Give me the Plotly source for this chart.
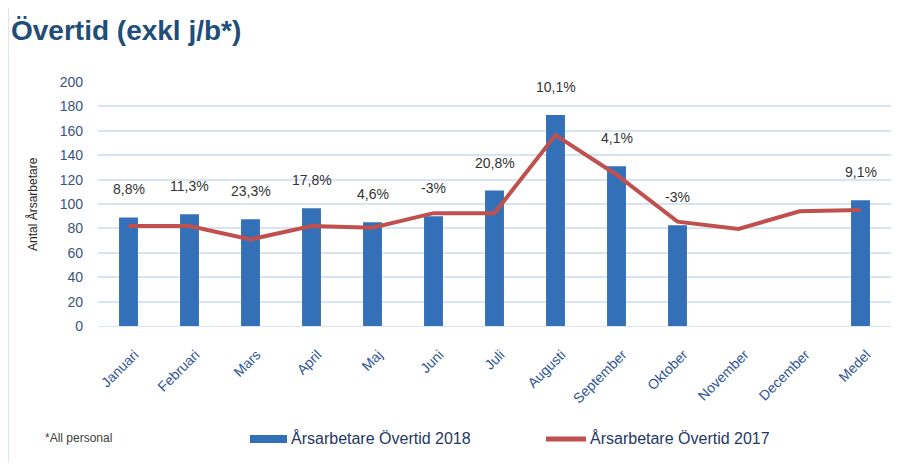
import plotly.graph_objects as go

months = ["Januari", "Februari", "Mars", "April", "Maj", "Juni", "Juli",
          "Augusti", "September", "Oktober", "November", "December", "Medel"]
overtid_2018 = [89, 91.5, 87.5, 96.5, 85, 90, 111, 173, 131, 82.5, None, None, 103]
overtid_2017 = [82, 82, 71, 82, 80.5, 92.5, 92.5, 156.5, 124, 85.5, 79.5, 94, 95]
change_labels = ["8,8%", "11,3%", "23,3%", "17,8%", "4,6%", "-3%", "20,8%",
                 "10,1%", "4,1%", "-3%", "", "", "9,1%"]
y_ticks = [0, 20, 40, 60, 80, 100, 120, 140, 160, 180, 200]
series_names = ["Årsarbetare Övertid 2018", "Årsarbetare Övertid 2017"]
BAR_COLOR = "#3470B8"
LINE_COLOR = "#C0504D"

# page has an 8px body margin; figure sized to fit window
OFF = 8
W, H = 903 - OFF, 464 - OFF
# target page pixels: plot left 98, right 891, top 82, bottom 326
L, T = 98 - OFF, 82 - OFF
R = W - (891 - OFF)
B = H - (326 - OFF)
PW, PH = W - L - R, H - T - B


def px_x(px):
    """page pixel x -> paper coordinate"""
    return (px - OFF - L) / PW


def px_y(py):
    """page pixel y -> paper coordinate"""
    return (H - B - (py - OFF)) / PH


fig = go.Figure()
fig.add_trace(go.Bar(
    x=months, y=overtid_2018, name=series_names[0],
    marker=dict(color=BAR_COLOR, line=dict(width=0)),
))
fig.add_trace(go.Scatter(
    x=months, y=overtid_2017, name=series_names[1],
    mode="lines", line=dict(color=LINE_COLOR, width=4),
    connectgaps=True,
))

FONT = "Liberation Sans, Arial"
NARROW = "Liberation Sans Narrow, Liberation Sans, Arial"

annotations = []
for m, v, t in zip(months, overtid_2018, change_labels):
    if v is None or not t:
        continue
    annotations.append(dict(
        x=m, y=v, xref="x", yref="y", text=t, showarrow=False,
        yshift=28, font=dict(family=FONT, size=14, color="#333333"),
    ))

# title
annotations.append(dict(
    x=px_x(9), y=px_y(30), xref="paper", yref="paper", xanchor="left", yanchor="middle",
    text="<b>Övertid (exkl j/b*)</b>", showarrow=False,
    font=dict(family=FONT, size=28, color="#1F4E79"),
))
# y-axis title
annotations.append(dict(
    x=px_x(32), y=px_y(204), xref="paper", yref="paper", xanchor="center", yanchor="middle",
    text="Antal Årsarbetare", textangle=-90, showarrow=False,
    font=dict(family=FONT, size=12, color="#262626"),
))
# footnote
annotations.append(dict(
    x=px_x(43), y=px_y(438), xref="paper", yref="paper",
    xanchor="left", yanchor="middle",
    text="*All personal", showarrow=False,
    font=dict(family=NARROW, size=12, color="#404040"),
))
# legend texts
annotations.append(dict(
    x=px_x(289), y=px_y(438), xref="paper", yref="paper", xanchor="left", yanchor="middle",
    text=series_names[0], showarrow=False,
    font=dict(family=NARROW, size=16, color="#1F3864"),
))
annotations.append(dict(
    x=px_x(588), y=px_y(438), xref="paper", yref="paper", xanchor="left", yanchor="middle",
    text=series_names[1], showarrow=False,
    font=dict(family=NARROW, size=16, color="#1F3864"),
))

frame = "#DAE6F3"
shapes = [
    dict(type="line", xref="paper", yref="paper",
         x0=px_x(8), x1=px_x(903), y0=px_y(6), y1=px_y(6),
         line=dict(color=frame, width=2)),
    dict(type="line", xref="paper", yref="paper",
         x0=px_x(8), x1=px_x(8), y0=px_y(6), y1=px_y(462),
         line=dict(color=frame, width=2)),
    # legend keys
    dict(type="rect", xref="paper", yref="paper",
         x0=px_x(250), x1=px_x(287), y0=px_y(443), y1=px_y(435),
         fillcolor=BAR_COLOR, line=dict(width=0)),
    dict(type="line", xref="paper", yref="paper",
         x0=px_x(546), x1=px_x(586), y0=px_y(439), y1=px_y(439),
         line=dict(color=LINE_COLOR, width=5)),
]

fig.update_layout(
    width=W, height=H,
    margin=dict(l=L, r=R, t=T, b=B, autoexpand=False),
    paper_bgcolor="white", plot_bgcolor="white",
    bargap=0.69,
    showlegend=False,
    annotations=annotations,
    shapes=shapes,
    xaxis=dict(
        tickangle=-45, showgrid=False, showline=True, linecolor="#D9E4F2", linewidth=1,
        tickfont=dict(family=FONT, size=14, color="#2F5597"),
        ticks="", ticklabelstandoff=14, ticklabelshift=6, automargin=False,
    ),
    yaxis=dict(
        range=[0, 200], tickvals=y_ticks, showgrid=True, gridcolor="#D9E4F2", gridwidth=1.5,
        zeroline=False, ticks="", ticklabelstandoff=14, automargin=False,
        tickfont=dict(family=FONT, size=14, color="#3B5378"),
    ),
)

fig.write_html("out.html")
